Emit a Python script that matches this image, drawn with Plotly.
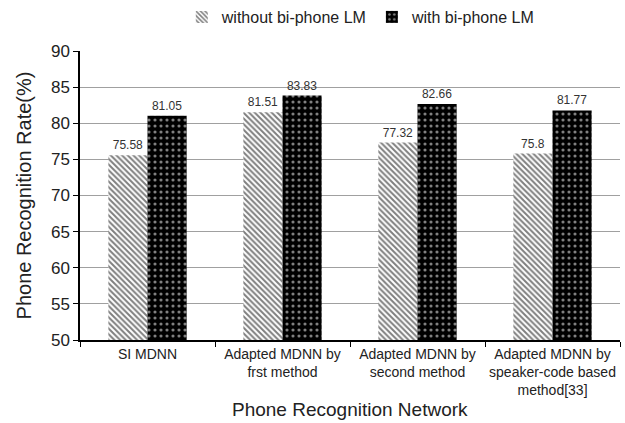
import plotly.graph_objects as go

categories = [
    "SI MDNN",
    "Adapted MDNN by<br>frst method",
    "Adapted MDNN by<br>second method",
    "Adapted MDNN by<br>speaker-code based<br>method[33]",
]
without_lm = [75.58, 81.51, 77.32, 75.8]
with_lm = [81.05, 83.83, 82.66, 81.77]

FONT = "Liberation Sans, Arial, sans-serif"

fig = go.Figure()
fig.add_trace(go.Bar(
    name="without bi-phone LM",
    x=categories, y=without_lm,
    text=[str(v) for v in without_lm], textposition="outside",
    textfont=dict(size=12, color="#333333"),
    marker=dict(color="white", line=dict(width=0),
                pattern=dict(shape="\\", fgcolor="black", bgcolor="white",
                             size=4, solidity=0.5)),
    cliponaxis=False,
))
fig.add_trace(go.Bar(
    name="with bi-phone LM",
    x=categories, y=with_lm,
    text=[str(v) for v in with_lm], textposition="outside",
    textfont=dict(size=12, color="#333333"),
    marker=dict(color="black", line=dict(width=0),
                pattern=dict(shape=".", fgcolor="white", bgcolor="black",
                             size=6, solidity=0.22)),
    cliponaxis=False,
))

fig.update_layout(
    width=625, height=423,
    margin=dict(l=80, r=5, t=51, b=83),
    paper_bgcolor="white", plot_bgcolor="white",
    font=dict(family=FONT, color="#222222"),
    barmode="group", bargap=0.42, bargroupgap=0,
    showlegend=True,
    legend=dict(orientation="h", x=0.52, xanchor="center",
                y=1.0, yanchor="top", yref="container",
                font=dict(size=16), traceorder="normal", itemwidth=30),
)

fig.update_yaxes(
    range=[50, 90], dtick=5, showgrid=True, gridcolor="#a0a0a0", gridwidth=1.2,
    showline=True, linecolor="black", linewidth=1.5,
    ticks="outside", ticklen=5, tickcolor="black",
    tickfont=dict(size=17), automargin=False,
    title=dict(text="Phone Recognition Rate(%)", font=dict(size=20), standoff=14),
    zeroline=False,
)
fig.update_xaxes(
    showline=True, linecolor="black", linewidth=1.5,
    ticks="outside", ticklen=5, tickcolor="black", tickson="boundaries",
    tickfont=dict(size=14), tickangle=0, automargin=False,
)

# x-axis title placed just under the first two lines of category labels
fig.add_annotation(
    text="Phone Recognition Network", xref="paper", yref="paper",
    x=0.5, y=-0.242, yanchor="middle", showarrow=False,
    font=dict(size=19, color="#222222"),
)

fig.write_html("out.html")
